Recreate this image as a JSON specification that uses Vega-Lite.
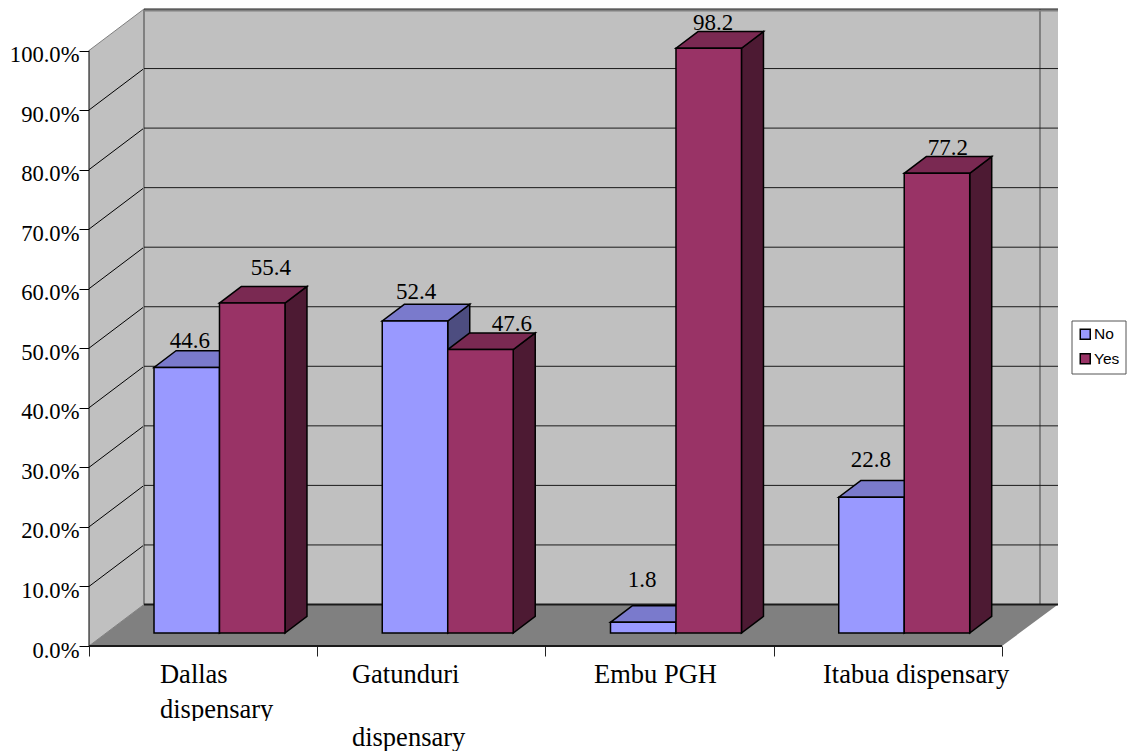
{"$schema":"https://vega.github.io/schema/vega-lite/v6.json","width":969,"height":637,"autosize":"none","padding":{"left":89,"top":9,"right":69,"bottom":105},"background":"white","config":{"view":{"stroke":null}},"datasets":{"bars":[{"site":0,"name":"Dallas dispensary","response":"No","value":44.6},{"site":0,"name":"Dallas dispensary","response":"Yes","value":55.4},{"site":1,"name":"Gatunduri dispensary","response":"No","value":52.4},{"site":1,"name":"Gatunduri dispensary","response":"Yes","value":47.6},{"site":2,"name":"Embu PGH","response":"No","value":1.8},{"site":2,"name":"Embu PGH","response":"Yes","value":98.2},{"site":3,"name":"Itabua dispensary","response":"No","value":22.8},{"site":3,"name":"Itabua dispensary","response":"Yes","value":77.2}],"ticks":[{"tick":0},{"tick":10},{"tick":20},{"tick":30},{"tick":40},{"tick":50},{"tick":60},{"tick":70},{"tick":80},{"tick":90},{"tick":100}],"depth":[{"d":0},{"d":1}],"one":[{"k":1}],"labels":[{"site":0,"label":"Dallas","line":0},{"site":0,"label":"dispensary","line":1},{"site":1,"label":"Gatunduri","line":0},{"site":1,"label":"dispensary","line":2},{"site":2,"label":"Embu PGH","line":0},{"site":3,"label":"Itabua dispensary","line":0}]},"layer":[{"data":{"name":"one"},"mark":{"type":"rect","fill":"#c0c0c0"},"encoding":{"x":{"datum":0.241,"type":"quantitative","scale":{"domain":[0,4.2454],"nice":false,"zero":false},"axis":{"values":[0,1,2,3,4],"title":null,"labels":false,"domain":false,"grid":false,"ticks":true,"tickSize":10,"tickColor":"#222","tickWidth":1}},"x2":{"datum":4.2454},"y":{"datum":6.97,"type":"quantitative","scale":{"domain":[0,106.97],"nice":false,"zero":false},"axis":{"values":[0,10,20,30,40,50,60,70,80,90,100],"title":null,"domain":false,"grid":false,"tickSize":10,"tickColor":"black","tickWidth":1,"labelExpr":"format(datum.value,'.1f')+'%'","labelFont":"Liberation Serif","labelFontSize":22.6,"labelColor":"black","labelPadding":0,"labelOffset":4,"labelOverlap":false,"labelFlush":false}},"y2":{"datum":106.97}}},{"data":{"name":"depth"},"transform":[{"calculate":"datum.d*0.241","as":"px"},{"calculate":"datum.d*6.97","as":"pb"},{"calculate":"100+datum.d*6.97","as":"pt"}],"mark":{"type":"area","fill":"#c0c0c0"},"encoding":{"x":{"field":"px","type":"quantitative","scale":{"domain":[0,4.2454],"nice":false,"zero":false}},"y":{"field":"pt","type":"quantitative","stack":null,"scale":{"domain":[0,106.97],"nice":false,"zero":false}},"y2":{"field":"pb"}}},{"data":{"name":"depth"},"transform":[{"calculate":"datum.d*0.241","as":"pl"},{"calculate":"4+datum.d*0.2454","as":"pr"},{"calculate":"datum.d*6.97","as":"py"}],"mark":{"type":"area","orient":"horizontal","fill":"#808080"},"encoding":{"y":{"field":"py","type":"quantitative","scale":{"domain":[0,106.97],"nice":false,"zero":false}},"x":{"field":"pl","type":"quantitative","stack":null,"scale":{"domain":[0,4.2454],"nice":false,"zero":false}},"x2":{"field":"pr"}}},{"data":{"name":"ticks"},"transform":[{"calculate":"datum.tick+6.97","as":"backY"}],"mark":{"type":"rule","strokeWidth":1},"encoding":{"x":{"datum":0,"type":"quantitative","scale":{"domain":[0,4.2454],"nice":false,"zero":false}},"x2":{"datum":0.241},"y":{"field":"tick","type":"quantitative","scale":{"domain":[0,106.97],"nice":false,"zero":false}},"y2":{"field":"backY"},"color":{"condition":{"test":"datum.tick==0||datum.tick==100","value":"#808080"},"value":"black"}}},{"data":{"name":"one"},"mark":{"type":"rule","stroke":"#808080","strokeWidth":2},"encoding":{"x":{"datum":0.241,"type":"quantitative","scale":{"domain":[0,4.2454],"nice":false,"zero":false}},"y":{"datum":6.97,"type":"quantitative","scale":{"domain":[0,106.97],"nice":false,"zero":false}},"y2":{"datum":106.97}}},{"data":{"name":"one"},"mark":{"type":"rule","stroke":"#808080","strokeWidth":2},"encoding":{"x":{"datum":4.1665,"type":"quantitative","scale":{"domain":[0,4.2454],"nice":false,"zero":false}},"y":{"datum":6.97,"type":"quantitative","scale":{"domain":[0,106.97],"nice":false,"zero":false}},"y2":{"datum":106.97}}},{"data":{"name":"one"},"mark":{"type":"rule","stroke":"#808080","strokeWidth":2},"encoding":{"x":{"datum":0.241,"type":"quantitative","scale":{"domain":[0,4.2454],"nice":false,"zero":false}},"x2":{"datum":4.2454},"y":{"datum":106.72,"type":"quantitative","scale":{"domain":[0,106.97],"nice":false,"zero":false}}}},{"data":{"name":"ticks"},"transform":[{"calculate":"datum.tick+6.97","as":"backY"}],"mark":{"type":"rule"},"encoding":{"x":{"datum":0.241,"type":"quantitative","scale":{"domain":[0,4.2454],"nice":false,"zero":false}},"x2":{"datum":4.2454},"y":{"field":"backY","type":"quantitative","scale":{"domain":[0,106.97],"nice":false,"zero":false}},"strokeWidth":{"condition":{"test":"datum.tick==0","value":2},"value":1},"color":{"value":"#1a1a1a"}}},{"data":{"name":"one"},"mark":{"type":"rule","stroke":"black","strokeWidth":1},"encoding":{"x":{"datum":0,"type":"quantitative","scale":{"domain":[0,4.2454],"nice":false,"zero":false}},"y":{"datum":0,"type":"quantitative","scale":{"domain":[0,106.97],"nice":false,"zero":false}},"y2":{"datum":100}}},{"data":{"name":"one"},"mark":{"type":"rule","stroke":"#1a1a1a","strokeWidth":2},"encoding":{"x":{"datum":0,"type":"quantitative","scale":{"domain":[0,4.2454],"nice":false,"zero":false}},"x2":{"datum":4},"y":{"datum":0,"type":"quantitative","scale":{"domain":[0,106.97],"nice":false,"zero":false}}}},{"data":{"name":"bars"},"transform":[{"calculate":"[0,1]","as":"t"},{"flatten":["t"]},{"calculate":"datum.site+0.2848+(datum.response=='Yes'?0.2869:0)+0.2869+datum.t*0.0964","as":"sx"},{"calculate":"2.18+datum.t*2.8","as":"sb"},{"calculate":"datum.value+2.18+datum.t*2.8","as":"st"},{"calculate":"datum.site+'-'+datum.response","as":"barId"}],"mark":{"type":"area","stroke":"black","strokeWidth":1.5},"encoding":{"x":{"field":"sx","type":"quantitative","scale":{"domain":[0,4.2454],"nice":false,"zero":false}},"y":{"field":"st","type":"quantitative","stack":null,"scale":{"domain":[0,106.97],"nice":false,"zero":false}},"y2":{"field":"sb"},"detail":{"field":"barId"},"fill":{"condition":{"test":"datum.response=='No'","value":"#4d4d80"},"value":"#4d1a33"}}},{"data":{"name":"bars"},"transform":[{"calculate":"[0,1]","as":"t"},{"flatten":["t"]},{"calculate":"datum.site+0.2848+(datum.response=='Yes'?0.2869:0)+datum.t*0.0964","as":"tl"},{"calculate":"datum.site+0.2848+(datum.response=='Yes'?0.2869:0)+0.2869+datum.t*0.0964","as":"tr"},{"calculate":"datum.value+2.18+datum.t*2.8","as":"ty"},{"calculate":"datum.site+'-'+datum.response","as":"barId"}],"mark":{"type":"area","orient":"horizontal","stroke":"black","strokeWidth":1.5},"encoding":{"y":{"field":"ty","type":"quantitative","scale":{"domain":[0,106.97],"nice":false,"zero":false}},"x":{"field":"tl","type":"quantitative","stack":null,"scale":{"domain":[0,4.2454],"nice":false,"zero":false}},"x2":{"field":"tr"},"detail":{"field":"barId"},"fill":{"condition":{"test":"datum.response=='No'","value":"#7a7acc"},"value":"#7a2952"}}},{"data":{"name":"bars"},"transform":[{"calculate":"datum.site+0.2848+(datum.response=='Yes'?0.2869:0)","as":"fl"},{"calculate":"datum.fl+0.2869","as":"fr"},{"calculate":"datum.value+2.18","as":"ft"},{"calculate":"2.18","as":"fb"}],"mark":{"type":"rect","stroke":"black","strokeWidth":1.5},"encoding":{"x":{"field":"fl","type":"quantitative","scale":{"domain":[0,4.2454],"nice":false,"zero":false}},"x2":{"field":"fr"},"y":{"field":"ft","type":"quantitative","scale":{"domain":[0,106.97],"nice":false,"zero":false}},"y2":{"field":"fb"},"color":{"field":"response","type":"nominal","scale":{"domain":["No","Yes"],"range":["#9999ff","#993366"]},"legend":{"title":null,"orient":"none","legendX":982.5,"legendY":311.5,"symbolType":"square","symbolSize":100,"symbolStrokeColor":"black","symbolStrokeWidth":1.5,"labelFont":"Liberation Sans","labelFontSize":15.5,"labelColor":"black","labelOffset":1,"strokeColor":"#555555","fillColor":"white","padding":6,"rowPadding":6.5}}}},{"data":{"name":"bars"},"transform":[{"calculate":"datum.site*2+(datum.response=='Yes'?1:0)","as":"bar"},{"calculate":"[0.4425,0.797,1.433,1.853,2.423,2.734,3.426,3.763][datum.bar]","as":"lx"},{"calculate":"datum.value+[5.44,6.9,5.87,5.3,8.11,5.2,7.26,5.25][datum.bar]","as":"ly"}],"mark":{"type":"text","font":"Liberation Serif","fontSize":23,"align":"center","baseline":"alphabetic","color":"black"},"encoding":{"x":{"field":"lx","type":"quantitative","scale":{"domain":[0,4.2454],"nice":false,"zero":false}},"y":{"field":"ly","type":"quantitative","scale":{"domain":[0,106.97],"nice":false,"zero":false}},"text":{"field":"value","type":"quantitative","format":".1f"}}},{"data":{"name":"labels"},"transform":[{"calculate":"datum.site+[0.311,0.152,0.2125,0.216][datum.site]","as":"lx"},{"calculate":"[-6.2,-12.09,-16.8][datum.line]","as":"ly"}],"mark":{"type":"text","font":"Liberation Serif","fontSize":26.5,"align":"left","baseline":"alphabetic","color":"black"},"encoding":{"x":{"field":"lx","type":"quantitative","scale":{"domain":[0,4.2454],"nice":false,"zero":false}},"y":{"field":"ly","type":"quantitative","scale":{"domain":[0,106.97],"nice":false,"zero":false}},"text":{"field":"label"}}},{"data":{"name":"one"},"mark":{"type":"rect","fill":"white"},"encoding":{"x":{"datum":0.29,"type":"quantitative","scale":{"domain":[0,4.2454],"nice":false,"zero":false}},"x2":{"datum":0.88},"y":{"datum":-12.6,"type":"quantitative","scale":{"domain":[0,106.97],"nice":false,"zero":false}},"y2":{"datum":-14.0}}}]}
